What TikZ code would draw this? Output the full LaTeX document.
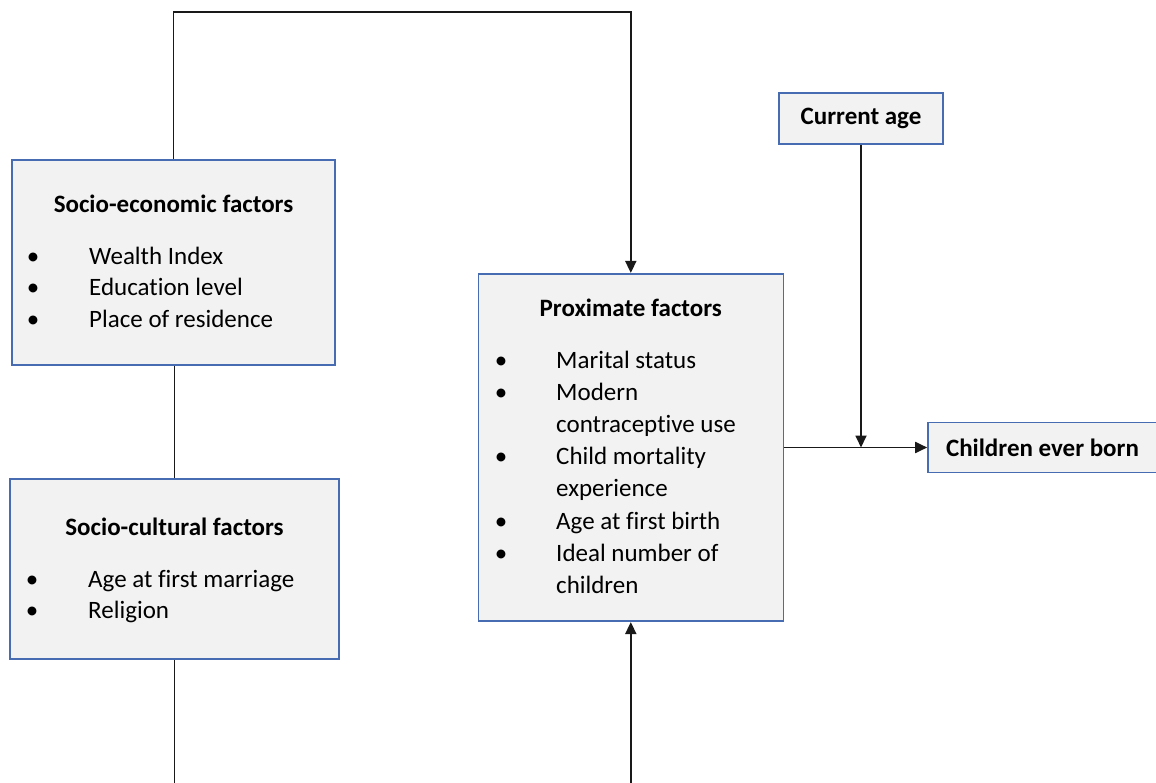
\documentclass[tikz,border=0pt]{standalone}
\usepackage{fontspec}
\setmainfont{Carlito}[Ligatures=CommonOff]
\usepackage{tikz}
\usetikzlibrary{arrows.meta}
\pgfdeclarelayer{edgelayer}
\pgfdeclarelayer{nodelayer}
\pgfsetlayers{edgelayer,nodelayer,main}
\definecolor{boxblue}{RGB}{72,108,178}
\definecolor{boxfill}{RGB}{242,242,242}
\tikzstyle{connector}=[draw=black!90, line width=1.8pt]
\tikzstyle{flowarrow}=[connector, -{Triangle[length=12pt, width=11pt]}]
\tikzstyle{box}=[rectangle, draw=boxblue, fill=boxfill, line width=1.6pt, inner sep=0pt, font=\fontsize{25}{30}\selectfont\bfseries]
\tikzstyle{heading}=[inner sep=0pt, anchor=base, font=\fontsize{25}{30}\selectfont\bfseries]
\tikzstyle{entry}=[inner sep=0pt, anchor=base west, font=\fontsize{25}{30}\selectfont]
\tikzstyle{dot}=[inner sep=0pt, anchor=base, font=\fontsize{25}{30}\selectfont]

\begin{document}
\begin{tikzpicture}[x=1pt, y=-1pt]
			\useasboundingbox (0,0) rectangle (1156,783);
			\begin{pgfonlayer}{nodelayer}
			% boxes
			\node [style=box, minimum width=323pt, minimum height=205pt] (socioeco) at (173.5, 262.5) {};
			\node [style=box, minimum width=329pt, minimum height=180pt] (soccult) at (174.5, 569) {};
			\node [style=box, minimum width=305pt, minimum height=347.5pt] (prox) at (630.8, 447.5) {};
			\node [style=box, minimum width=164pt, minimum height=51pt] (curage) at (861, 118.5) {Current age};
			\node [style=box, minimum width=229pt, minimum height=50pt] (children) at (1042.5, 447.5) {Children ever born};
			% socio-economic
			\node [style=heading] (seh) at (173.5, 213) {Socio-economic factors};
			\node [style=dot] (se1b) at (33, 265) {\textbullet};
			\node [style=entry] (se1) at (89, 265) {Wealth Index};
			\node [style=dot] (se2b) at (33, 296) {\textbullet};
			\node [style=entry] (se2) at (89, 296) {Education level};
			\node [style=dot] (se3b) at (33, 327) {\textbullet};
			\node [style=entry] (se3) at (89, 327) {Place of residence};
			% socio-cultural
			\node [style=heading] (sch) at (174.5, 535) {Socio-cultural factors};
			\node [style=dot] (sc1b) at (32, 587) {\textbullet};
			\node [style=entry] (sc1) at (88, 587) {Age at first marriage};
			\node [style=dot] (sc2b) at (32, 618) {\textbullet};
			\node [style=entry] (sc2) at (88, 618) {Religion};
			% proximate
			\node [style=heading] (pxh) at (630.8, 317) {Proximate factors};
			\node [style=dot] (px1b) at (501, 368) {\textbullet};
			\node [style=entry] (px1) at (556, 368) {Marital status};
			\node [style=dot] (px2b) at (501, 400) {\textbullet};
			\node [style=entry] (px2) at (556, 400) {Modern};
			\node [style=entry] (px2c) at (556, 432.4) {contraceptive use};
			\node [style=dot] (px3b) at (501, 464.6) {\textbullet};
			\node [style=entry] (px3) at (556, 464.6) {Child mortality};
			\node [style=entry] (px3c) at (556, 496.8) {experience};
			\node [style=dot] (px4b) at (501, 529) {\textbullet};
			\node [style=entry] (px4) at (556, 529) {Age at first birth};
			\node [style=dot] (px5b) at (501, 561.2) {\textbullet};
			\node [style=entry] (px5) at (556, 561.2) {Ideal number of};
			\node [style=entry] (px5c) at (556, 593.4) {children};
			\end{pgfonlayer}
			\begin{pgfonlayer}{edgelayer}
			\coordinate (topbend) at (172, 12);
			\coordinate (bottomleft) at (176, 783);
			\coordinate (bottomright) at (630.8, 783);
			\draw [style=flowarrow] (socioeco.north) -- (socioeco.north |- topbend) -| (prox.north);
			\draw [style=connector] (soccult.north) -- (soccult.north |- socioeco.south);
			\draw [style=connector] (soccult.south) -- (soccult.south |- bottomleft);
			\draw [style=flowarrow] (bottomright) -- (prox.south);
			\draw [style=flowarrow] (prox.east) -- (children.west);
			\draw [style=flowarrow] (curage.south) -- (curage.south |- prox.east);
			\end{pgfonlayer}
\end{tikzpicture}
\end{document}
